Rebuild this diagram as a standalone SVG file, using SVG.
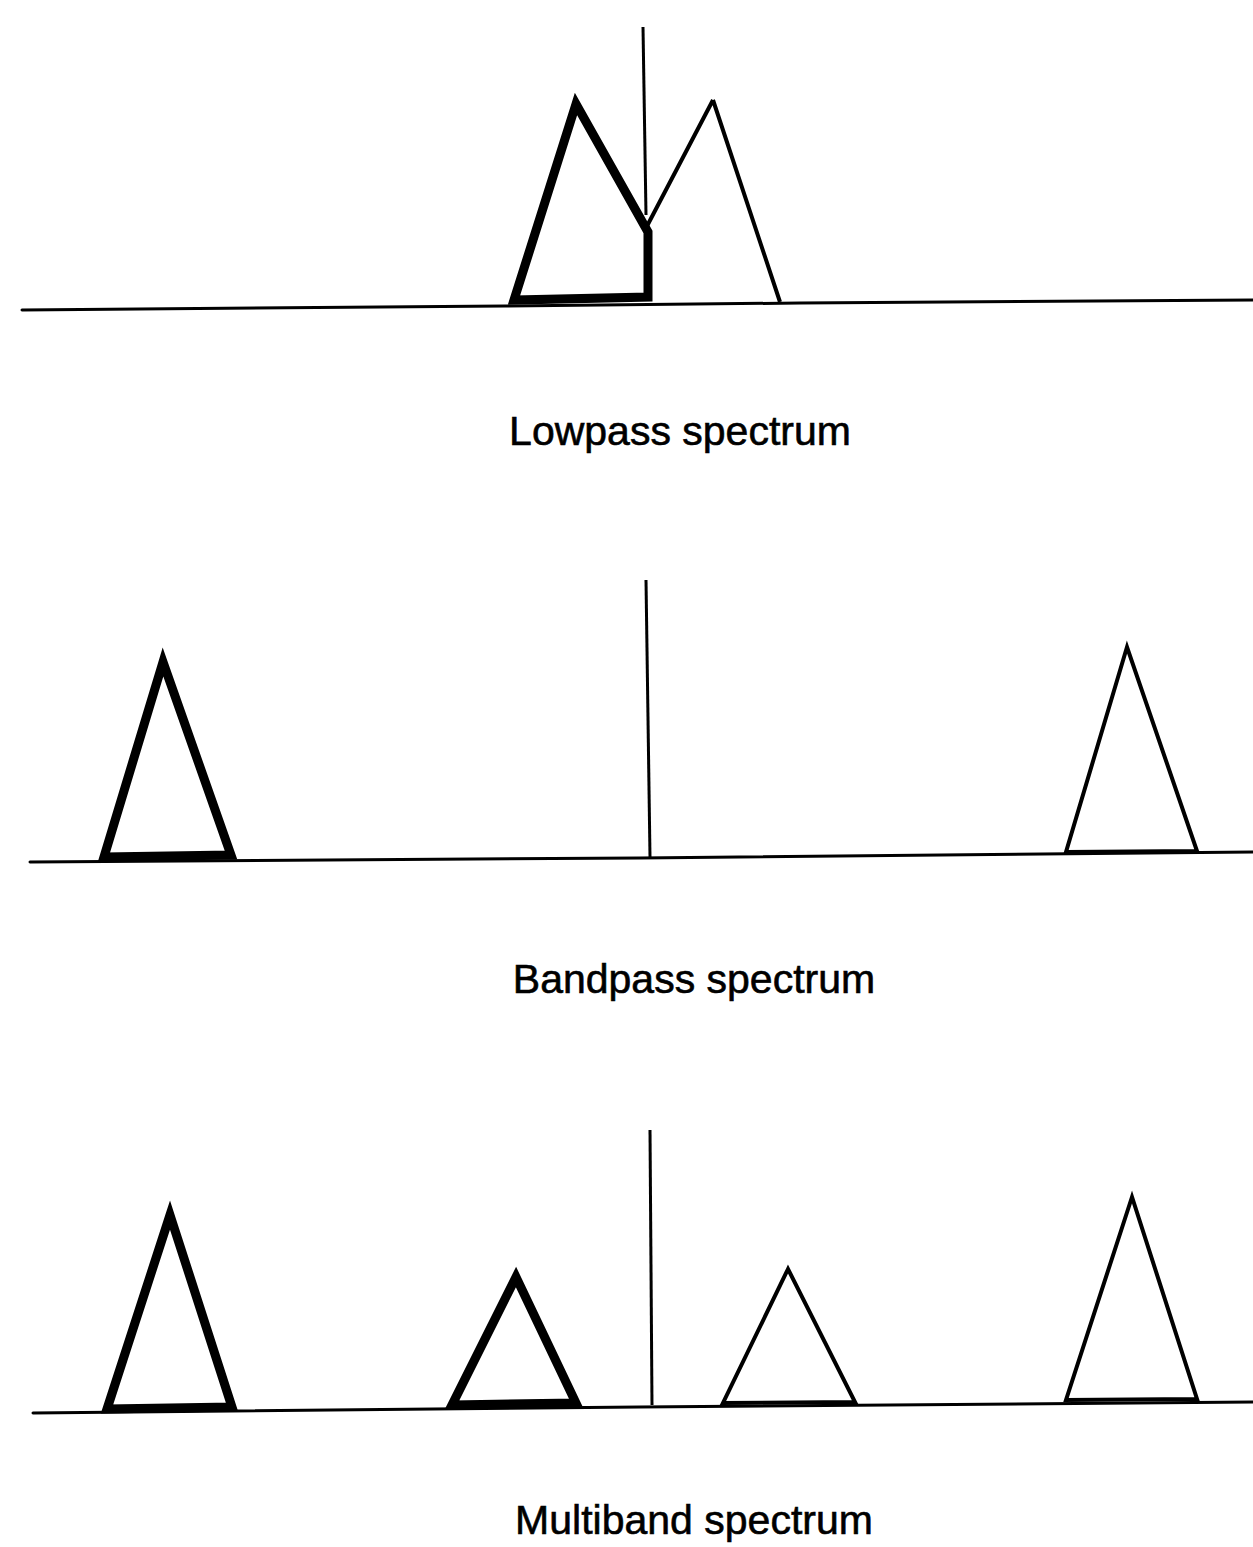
<svg xmlns="http://www.w3.org/2000/svg" width="1253" height="1547" viewBox="0 0 1253 1547">
<style>
.base{stroke:#000;stroke-width:3;fill:none;stroke-linecap:round}
.spike{stroke:#000;stroke-width:3;fill:none}
.thick{stroke:#000;stroke-width:9;fill:none;stroke-linejoin:miter}
.thin{stroke:#000;stroke-width:4;fill:none;stroke-linejoin:miter}
.lbl{font-family:"Liberation Sans",Arial,sans-serif;font-size:41px;fill:#000;stroke:#000;stroke-width:0.6;text-anchor:middle}
</style>
<rect width="1253" height="1547" fill="#fff"/>
<g id="lowpass">
<path class="base" d="M22 310 L505 306 L800 303 L1253 300"/>
<path class="spike" d="M643 27 L646 215"/>
<path class="thick" d="M576 104 L514 300 L648 297 L648 232 Z"/>
<path class="thin" d="M713 100 L646 228 M713 100 L780 302"/>
<text class="lbl" x="680" y="445">Lowpass spectrum</text>
</g>
<g id="bandpass">
<path class="base" d="M30 862 L640 858 L1253 852"/>
<path class="spike" d="M646 580 L650 857"/>
<path class="thick" d="M163 662 L104 857 L231 855 Z"/>
<path class="thin" d="M1127 647 L1066 852 L1197 851 Z"/>
<text class="lbl" x="694" y="993">Bandpass spectrum</text>
</g>
<g id="multiband">
<path class="base" d="M33 1413 L640 1407 L1253 1402"/>
<path class="spike" d="M650 1130 L652 1405"/>
<path class="thick" d="M170 1215 L107 1409 L232 1407 Z"/>
<path class="thick" d="M516 1277 L452 1405 L576 1403 Z"/>
<path class="thin" d="M788 1269 L723 1403 L855 1402 Z"/>
<path class="thin" d="M1132 1197 L1066 1400 L1197 1399 Z"/>
<text class="lbl" x="694" y="1534">Multiband spectrum</text>
</g>
</svg>
